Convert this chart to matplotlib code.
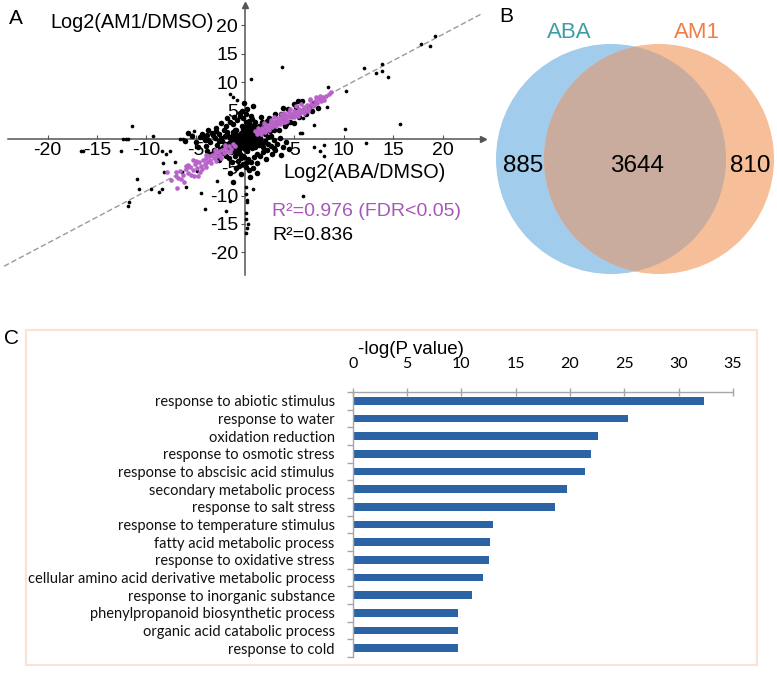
import matplotlib
matplotlib.use('Agg')
import matplotlib.pyplot as plt
from matplotlib.patches import Circle, Rectangle
import numpy as np

plt.rcParams['axes.unicode_minus'] = False
plt.rcParams['font.family'] = ['Liberation Sans', 'DejaVu Sans']

# ---------------- data ----------------
# Panel A: log2 fold changes (x = ABA/DMSO, y = AM1/DMSO)
cloud_genes = [
    (0, 0), (0.3, 0.2), (-0.3, 0.1), (0.5, -0.3), (-0.5, -0.4), (0.2, 0.6), (-0.2, -0.7), (0.8, 0.4),
    (-0.8, 0.3), (1.0, -0.5), (-1.0, -0.6), (0.4, 1.0), (-0.4, 1.1), (0.6, -1.0), (-0.6, -1.2), (1.2, 0.8),
    (-1.2, 0.7), (1.3, -0.2), (-1.3, -0.1), (0.1, 1.5), (-0.1, -1.6), (0.9, 1.4), (-0.9, 1.5), (0.7, -1.6),
    (-0.7, -1.8), (1.5, 0.1), (-1.5, 0.2), (1.4, -1.1), (-1.4, -1.0), (0.0, 2.0), (0.2, -2.2), (-0.3, 2.3),
    (1.1, 1.9), (-1.1, -2.0), (1.6, 1.2), (-1.6, -1.4), (1.8, -0.7), (-1.8, 0.6), (0.5, 2.5), (-0.5, -2.6),
    (-0.2, 0.4), (0.3, -0.6), (0.6, 0.7), (-0.7, -0.2), (1.0, 0.0), (-1.0, 0.9), (0.1, -1.1), (-0.1, 0.9),
    (0.4, -1.4), (-0.4, -0.9), (1.2, -0.9), (-1.2, 1.2), (0.8, 1.1), (-0.8, -1.3), (0.0, -0.3), (-0.2, 1.8),
    (0.3, 1.7), (-0.6, 0.6), (0.7, -0.1), (-0.9, -0.7),
    (0.15, 0.35), (-0.35, -0.25), (0.55, 0.15), (-0.55, 0.45), (0.25, -0.85), (-0.15, 1.25), (0.85, -0.75),
    (-0.85, -0.95), (1.15, 0.35), (-1.15, -0.35), (0.45, 1.35), (-0.45, -1.45), (1.35, 0.55), (-1.35, 0.45),
    (0.05, -1.85), (-0.05, 2.15), (0.65, 1.95), (-0.65, -2.05), (1.65, -0.45), (-1.65, -0.65), (1.05, -1.45),
    (-1.05, 1.65), (0.35, 2.75), (-0.25, -2.95), (2.05, 0.85), (-2.05, -0.95), (1.85, -1.35), (-1.85, 1.15),
    (0.95, 2.45), (-0.95, -2.55), (2.35, -0.95), (-2.45, 0.15), (0.15, 3.05), (-0.15, -3.25), (1.45, 2.25),
    (-1.45, -2.35), (2.65, 0.55), (-2.65, -0.45), (-3.25, 0.65), (-3.75, -0.15), (-4.25, 0.35), (-2.95, 1.45),
    (-1.25, 2.65), (0.75, 3.55), (-0.55, 3.95), (1.25, -2.75), (-0.75, -3.85), (0.25, -4.05), (2.95, -1.55),
    (-2.25, -1.45),
    (-2.0, 0.5), (-2.3, -0.4), (-2.6, 0.9), (-2.1, 1.5), (-2.8, -1.0), (-3.0, 0.2), (-3.3, 1.1), (-3.5, -0.5),
    (-3.8, 0.6), (-4.1, -0.2), (-4.4, 0.9), (-2.5, -1.8), (-2.2, -2.5), (-3.1, -1.9), (-1.9, 2.3), (-2.4, 2.8),
    (-1.5, 3.0), (-0.8, 3.3), (-0.2, 3.6), (0.4, 3.2), (1.0, 3.0), (-1.1, 3.9), (0.1, 4.3), (-0.5, 4.6),
    (0.6, 4.0), (-0.3, 5.0), (0.2, 5.3), (-1.8, 3.6), (2.0, -0.4), (2.3, 0.3), (2.6, -1.2), (2.9, -0.2),
    (3.2, -0.9), (3.5, 0.1), (2.2, -2.0), (1.8, -2.4), (2.7, -2.6), (1.5, -3.0), (0.9, -3.2), (0.3, -3.5),
    (-0.4, -3.3), (-1.0, -3.0), (-1.6, -3.4), (0.6, -4.1), (-0.2, -4.4), (0.1, -5.0), (-0.6, -4.8), (1.2, -4.2),
    (-1.3, -4.0), (0.4, -5.5), (3.8, -1.5), (4.2, -0.6), (3.0, -2.0), (2.5, 1.4), (1.9, 2.1), (-4.0, -1.2),
    (-4.6, 0.3), (-5.0, -0.6), (-5.4, 0.5), (-3.7, 1.6), (-2.9, 2.0), (-3.4, -2.6), (-2.7, -3.0), (1.6, 3.8),
    (2.1, -3.5), (-0.9, -5.2), (0.8, 5.8), (-0.1, 6.3), (4.5, -1.8), (3.6, -2.8), (-4.8, -1.5), (-5.8, 1.0),
    (-6.1, -0.4), (2.8, 2.5), (3.2, 3.0), (4.0, 3.4), (4.8, 4.1), (5.5, 3.9), (5.2, 5.6), (6.0, 5.0),
    (6.5, 5.6), (4.4, 5.2), (3.6, 4.4), (7.0, 6.4), (6.2, 4.4), (5.8, 6.6), (2.4, 3.6), (4.0, 2.2),
    (5.0, 2.8), (3.4, 1.6), (-1.5, -6.0), (-1.2, -7.6), (0.8, -5.1), (-0.4, -6.2), (0.5, -6.8), (1.2, -6.0),
    (3.0, 4.3), (4.2, 2.6), (5.4, 6.6), (6.8, 5.0), (2.2, 3.1), (3.8, 5.4), (5.0, 6.2), (7.4, 5.4),
    (4.6, 3.0), (1.7, 2.9), (2.9, 1.5), (-2.6, -3.8), (-3.8, -2.2), (-1.9, -3.0),
]

outlier_genes = [
    (3.7, 12.6), (0.6, 10.5), (12.1, 12.5), (13.3, 11.7), (13.9, 11.9), (13.9, 13.2), (14.5, 10.9),
    (17.8, 16.8), (18.7, 16.3), (19.2, 18.2), (10.2, 8.4), (8.4, 9.1), (8.3, 5.6), (10.1, 1.8), (15.7, 2.6),
    (7.0, 2.4), (5.9, 3.7), (5.6, 1.1), (-1.2, 7.4), (-0.8, 6.8), (-1.5, 7.9), (-11.4, 2.3), (-12.4, -0.1),
    (-12.1, -0.1), (-11.8, -0.1), (-9.3, 0.5), (-12.6, -2.2), (-16.6, -2.2), (-16.4, -2.2), (-7.6, -2.2),
    (-8.0, -2.6), (-7.1, -4.0), (-8.3, -4.2), (-6.6, -0.1), (-6.3, -0.1), (-5.4, 0.7), (-5.2, 1.4),
    (-10.9, -7.0), (-10.7, -8.8), (-9.5, -8.9), (-8.7, -9.3), (-8.4, -8.9), (-11.7, -11.2), (-11.8, -11.8),
    (-6.0, -8.4), (-4.5, -9.5), (-4.1, -12.3), (-2.8, -7.4), (-8.2, -5.8), (-6.4, -5.8), (-4.9, -5.6),
    (0.1, -9.8), (0.2, -10.7), (0.1, -13.0), (0.1, -14.2), (0.3, -15.0), (0.2, -15.8), (0.1, -16.6),
    (0.2, -11.2), (-1.5, -11.0), (-1.9, -12.7), (0.8, -8.9), (5.9, -10.0), (0.1, -8.4), (7.0, -1.4),
    (7.6, -2.2), (12.3, -0.7), (5.8, 1.0), (-8.4, -2.2), (8.0, -1.0), (8.0, -3.0),
]

fdr_genes = [
    (1.0, 1.3), (1.2, 0.9), (1.4, 1.6), (1.5, 1.2), (1.7, 1.9), (1.8, 1.4), (2.0, 2.2), (2.1, 1.7),
    (2.2, 2.5), (2.3, 2.0), (2.5, 2.3), (2.6, 2.9), (2.7, 2.1), (2.8, 2.7), (3.0, 3.2), (3.0, 2.5),
    (3.2, 2.9), (3.3, 3.6), (3.4, 3.1), (3.6, 3.4), (3.7, 3.9), (3.8, 3.0), (4.0, 3.7), (4.1, 4.3),
    (4.2, 3.5), (4.4, 4.0), (4.5, 4.7), (4.6, 3.9), (4.8, 4.4), (5.0, 4.9), (5.1, 4.2), (5.3, 4.7),
    (5.5, 5.3), (5.6, 4.6), (5.8, 5.0), (6.0, 5.6), (6.1, 5.1), (6.3, 6.0), (6.5, 5.5), (6.7, 6.2),
    (6.9, 5.8), (7.1, 6.6), (7.3, 6.3), (7.5, 7.0), (7.7, 6.6), (7.9, 7.3), (8.2, 7.6), (8.5, 7.9),
    (8.7, 8.2), (2.4, 1.6), (3.5, 2.6), (4.3, 3.2), (5.4, 4.0), (6.4, 4.9), (1.9, 2.8), (2.9, 3.8),
    (3.9, 4.6), (5.2, 5.8), (6.6, 6.8), (7.2, 7.4),
    (2.0, 1.2), (2.6, 3.4), (3.1, 2.2), (3.6, 4.3), (4.0, 2.9), (4.6, 5.2), (5.0, 3.8), (5.7, 6.1),
    (6.0, 4.6), (6.6, 7.1), (7.0, 5.9), (7.6, 7.6), (8.0, 6.9), (1.3, 2.0), (1.6, 0.9),
    (-1.0, -1.3), (-1.2, -0.9), (-1.4, -1.7), (-1.6, -1.2), (-1.8, -2.1), (-2.0, -1.6), (-2.1, -2.5),
    (-2.3, -1.9), (-2.5, -2.8), (-2.6, -2.2), (-2.8, -3.1), (-3.0, -2.5), (-3.1, -3.4), (-3.3, -2.8),
    (-3.5, -3.8), (-3.6, -3.1), (-3.8, -4.1), (-4.0, -3.4), (-4.1, -4.5), (-4.3, -3.8), (-4.5, -4.8),
    (-4.7, -4.1), (-4.9, -5.2), (-5.1, -4.5), (-5.3, -5.5), (-5.6, -4.9), (-5.8, -6.0), (-6.0, -5.3),
    (-6.3, -6.4), (-6.6, -5.7), (-7.0, -6.6), (-6.9, -8.6), (-6.2, -7.6), (-7.9, -5.8), (-5.2, -6.5),
    (-4.6, -5.8), (-2.9, -3.9), (-3.9, -5.0), (-7.5, -7.2), (-6.8, -6.9), (-4.8, -6.6), (-5.3, -3.7),
    (-5.8, -4.6),
    (-1.5, -2.3), (-2.0, -1.1), (-2.4, -3.3), (-3.0, -1.9), (-3.4, -4.3), (-4.0, -2.9), (-4.4, -5.3),
    (-5.0, -3.9), (-5.5, -6.3), (-6.0, -4.7), (-6.5, -7.0), (-7.0, -5.9),
]

fit_slope = 0.92
x_ticks_a = [-20, -15, -10, -5, 5, 10, 15, 20]
y_ticks_a = [-20, -15, -10, -5, 5, 10, 15, 20]
r2_fdr = 0.976
r2_all = 0.836

# Panel B: Venn counts
venn_labels = ['ABA', 'AM1']
only_aba = 885
shared = 3644
only_am1 = 810

# Panel C: GO enrichment
go_terms = [
    'response to abiotic stimulus', 'response to water', 'oxidation reduction',
    'response to osmotic stress', 'response to abscisic acid stimulus',
    'secondary metabolic process', 'response to salt stress',
    'response to temperature stimulus', 'fatty acid metabolic process',
    'response to oxidative stress', 'cellular amino acid derivative metabolic process',
    'response to inorganic substance', 'phenylpropanoid biosynthetic process',
    'organic acid catabolic process', 'response to cold',
]
neg_log_p = [32.3, 25.3, 22.6, 21.9, 21.4, 19.7, 18.6, 12.95, 12.6, 12.5, 11.95, 11.0, 9.7, 9.7, 9.7]
x_ticks_c = [0, 5, 10, 15, 20, 25, 30, 35]

# ---------------- figure ----------------
W, H = 777, 679
fig = plt.figure(figsize=(W / 100, H / 100), dpi=100)


def fx(px):
    return px / W


def fy(py):
    return 1 - py / H


PURPLE = '#B862CA'
PURPLE_TXT = '#A657B8'

# ---- Panel A ----
axa = fig.add_axes([fx(8), fy(275), fx(483) - fx(8), fy(5) - fy(275)])
axa.set_xlim(-24.0, 24.1)
axa.set_ylim(-24.0, 23.6)
axa.patch.set_alpha(0)
for side in ['top', 'right']:
    axa.spines[side].set_visible(False)
for side in ['left', 'bottom']:
    axa.spines[side].set_position(('data', 0))
    axa.spines[side].set_color('#555555')
    axa.spines[side].set_linewidth(1.1)

cl = np.array(cloud_genes)
ol = np.array(outlier_genes)
fg = np.array(fdr_genes)
line_x = np.array([-24.4, 24.1])
axa.plot(line_x, fit_slope * line_x, color='#9a9a9a', lw=1.0, dashes=(4, 2), clip_on=False, zorder=1)
axa.scatter(cl[:, 0], cl[:, 1], s=16, c='black', linewidths=0, zorder=3)
axa.scatter(ol[:, 0], ol[:, 1], s=7, c='black', linewidths=0, zorder=3)
axa.scatter(fg[:, 0], fg[:, 1], s=11, c=PURPLE, linewidths=0, zorder=4)

axa.set_xticks(x_ticks_a)
axa.set_xticklabels([str(v) for v in x_ticks_a], fontsize=14)
axa.set_yticks(y_ticks_a)
axa.set_yticklabels([str(v) for v in y_ticks_a], fontsize=14)
axa.tick_params(axis='x', direction='in', length=3, pad=2, color='#555555')
axa.tick_params(axis='y', direction='out', length=3, pad=2, color='#555555')
axa.plot(1, 0, '>', color='#555555', ms=5, transform=axa.get_yaxis_transform(), clip_on=False)
axa.plot(0, 1, '^', color='#555555', ms=5, transform=axa.get_xaxis_transform(), clip_on=False)

fig.text(fx(9), fy(19), 'A', fontsize=15, va='center', ha='left')
fig.text(fx(50), fy(23), 'Log2(AM1/DMSO)', fontsize=14.3, va='center', ha='left')
fig.text(fx(283), fy(172), 'Log2(ABA/DMSO)', fontsize=14.3, va='center', ha='left')
fig.text(fx(272), fy(212), f'R²={r2_fdr:.3f} (FDR<0.05)', fontsize=14, va='center', ha='left', color=PURPLE_TXT)
fig.text(fx(272), fy(235), f'R²={r2_all:.3f}', fontsize=14, va='center', ha='left', color='black')

# ---- Panel B ----
axb = fig.add_axes([fx(480), fy(300), fx(777) - fx(480), fy(0) - fy(300)])
axb.set_xlim(480, 777)
axb.set_ylim(300, 0)
axb.axis('off')
blue = Circle((611, 159), 115, fc='#A2CCEB', ec='none')
orange = Circle((659, 159), 115, fc='#F6BE99', ec='none')
overlap = Circle((611, 159), 115, fc='#C9AC9D', ec='none')
axb.add_patch(blue)
axb.add_patch(orange)
axb.add_patch(overlap)
overlap.set_clip_path(orange)
axb.text(506, 17, 'B', fontsize=15, ha='center', va='center')
axb.text(569, 33, venn_labels[0], fontsize=16, ha='center', va='center', color='#3A9EA6')
axb.text(697, 33, venn_labels[1], fontsize=16, ha='center', va='center', color='#EF7D45')
axb.text(523, 166, str(only_aba), fontsize=17.5, ha='center', va='center')
axb.text(637, 166, str(shared), fontsize=17.5, ha='center', va='center')
axb.text(750, 166, str(only_am1), fontsize=17.5, ha='center', va='center')

# ---- Panel C ----
fig.add_artist(Rectangle((fx(26), fy(665)), fx(757) - fx(26), fy(330) - fy(665),
                         transform=fig.transFigure, fill=False, ec='#FBE2D1', lw=1.5))
fig.text(fx(4), fy(339), 'C', fontsize=15, va='center', ha='left')

axc = fig.add_axes([fx(352.7), fy(657), fx(733) - fx(352.7), fy(392) - fy(657)])
ypos = np.arange(len(go_terms))
axc.barh(ypos, neg_log_p, height=0.42, color='#2C63A5')
axc.set_xlim(0, 35)
axc.set_ylim(len(go_terms) - 0.5, -0.5)
axc.xaxis.tick_top()
axc.set_xticks(x_ticks_c)
axc.set_xticklabels([str(v) for v in x_ticks_c], fontsize=11.5, family='Lato')
axc.tick_params(axis='x', direction='inout', length=6, pad=12, color='#A6A6A6', width=1)
axc.set_yticks(ypos)
axc.set_yticklabels(go_terms, fontsize=10.5, family='Lato', color='#111111')
axc.tick_params(axis='y', which='major', length=0, pad=13)
axc.set_yticks(np.arange(-0.5, len(go_terms), 1.0), minor=True)
axc.tick_params(axis='y', which='minor', direction='out', length=4, color='#A6A6A6', width=1)
for side in ['right', 'bottom']:
    axc.spines[side].set_visible(False)
for side in ['top', 'left']:
    axc.spines[side].set_color('#A6A6A6')
    axc.spines[side].set_linewidth(1)
fig.text(fx(358), fy(350), '-log(P value)', fontsize=13.5, va='center', ha='left')

fig.savefig('out.png', dpi=100)
